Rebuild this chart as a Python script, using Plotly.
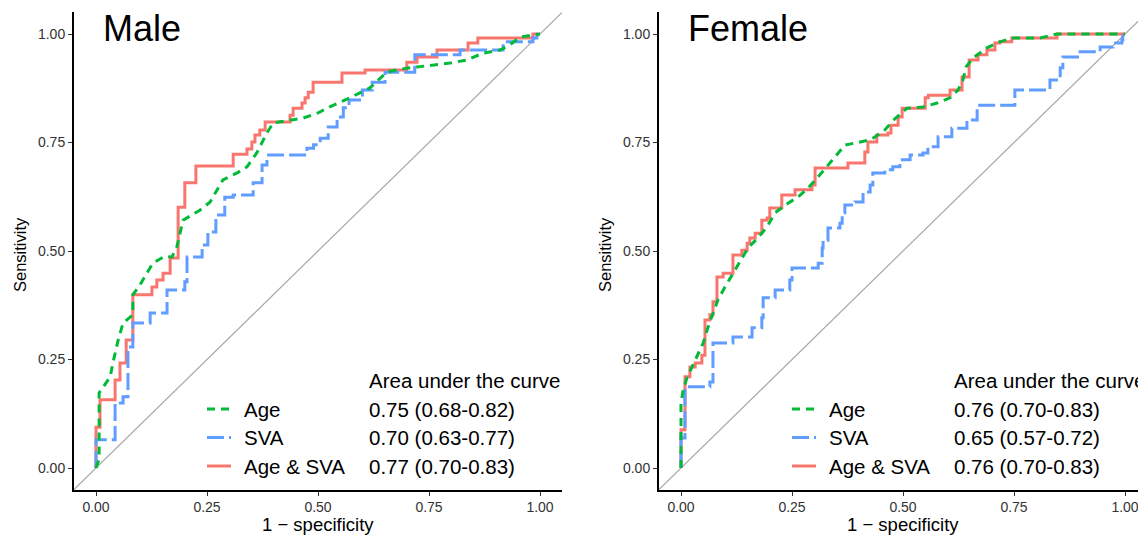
import plotly.graph_objects as go

# The page body adds an 8px margin, so the figure is drawn 8px smaller and
# reference pixel positions are shifted by that offset.
OFF = 8
W, H = 1146 - OFF, 535 - OFF

# ---------------- data ----------------
# Male panel
male_age_x = [0, 0.007, 0.007, 0.016, 0.032, 0.038, 0.05, 0.061, 0.083, 0.083, 0.099, 0.128, 0.155, 0.171,
              0.182, 0.196, 0.234, 0.257, 0.286, 0.318, 0.34, 0.362, 0.385, 0.399, 0.43, 0.466, 0.5, 0.52,
              0.572, 0.617, 0.655, 0.685, 0.723, 0.757, 0.797, 0.835, 0.872, 0.91, 0.932, 0.955, 0.984, 1.0]
male_age_y = [0, 0.02, 0.173, 0.187, 0.21, 0.242, 0.295, 0.334, 0.353, 0.399, 0.422, 0.472, 0.488, 0.486,
              0.509, 0.571, 0.594, 0.613, 0.664, 0.68, 0.694, 0.726, 0.772, 0.795, 0.80, 0.806, 0.818, 0.829,
              0.853, 0.876, 0.912, 0.919, 0.924, 0.928, 0.933, 0.94, 0.956, 0.963, 0.975, 0.993, 0.998, 1.0]

male_sva_x = [0, 0, 0.043, 0.061, 0.072, 0.083, 0.122, 0.16, 0.2, 0.205, 0.239, 0.252, 0.27, 0.29, 0.309,
              0.354, 0.374, 0.385, 0.475, 0.49, 0.505, 0.523, 0.543, 0.557, 0.57, 0.6, 0.622, 0.651, 0.718,
              0.82, 0.917, 0.984, 0.993, 1.0]
male_sva_y = [0, 0.065, 0.15, 0.164, 0.279, 0.334, 0.357, 0.41, 0.429, 0.486, 0.514, 0.544, 0.583, 0.624, 0.629,
              0.657, 0.698, 0.721, 0.737, 0.745, 0.76, 0.786, 0.809, 0.83, 0.848, 0.871, 0.889, 0.912, 0.952,
              0.963, 0.982, 0.991, 1.0, 1.0]

male_both_x = [0, 0, 0.009, 0.043, 0.054, 0.068, 0.083, 0.126, 0.137, 0.151, 0.167, 0.185, 0.2, 0.225, 0.309,
               0.34, 0.351, 0.358, 0.369, 0.381, 0.437, 0.444, 0.464, 0.471, 0.478, 0.489, 0.554, 0.606, 0.70,
               0.723, 0.768, 0.838, 0.86, 0.984, 1.0]
male_both_y = [0, 0.094, 0.157, 0.203, 0.242, 0.295, 0.399, 0.417, 0.433, 0.449, 0.484, 0.601, 0.657, 0.696, 0.723,
               0.735, 0.751, 0.767, 0.779, 0.797, 0.813, 0.829, 0.841, 0.853, 0.866, 0.889, 0.91, 0.917, 0.935,
               0.947, 0.963, 0.979, 0.991, 1.0, 1.0]

# Female panel
female_age_x = [0, 0, 0.005, 0.014, 0.025, 0.038, 0.05, 0.061, 0.072, 0.083, 0.099, 0.117, 0.133, 0.151, 0.173,
                0.194, 0.212, 0.241, 0.263, 0.286, 0.309, 0.329, 0.347, 0.369, 0.399, 0.426, 0.437, 0.459, 0.477,
                0.509, 0.545, 0.577, 0.606, 0.624, 0.635, 0.642, 0.658, 0.689, 0.718, 0.748, 0.809, 0.847, 1.0]
female_age_y = [0, 0.15, 0.18, 0.21, 0.233, 0.26, 0.288, 0.325, 0.357, 0.387, 0.417, 0.449, 0.475, 0.507, 0.53,
                0.556, 0.588, 0.61, 0.624, 0.645, 0.671, 0.694, 0.717, 0.744, 0.751, 0.756, 0.763, 0.779, 0.80,
                0.829, 0.832, 0.841, 0.853, 0.871, 0.894, 0.924, 0.945, 0.968, 0.982, 0.991, 0.991, 1.0, 1.0]

female_sva_x = [0, 0, 0.009, 0.065, 0.072, 0.117, 0.16, 0.182, 0.185, 0.212, 0.245, 0.25, 0.309, 0.318, 0.32,
                0.331, 0.358, 0.363, 0.369, 0.392, 0.41, 0.426, 0.432, 0.459, 0.477, 0.493, 0.516, 0.545, 0.556,
                0.579, 0.61, 0.644, 0.667, 0.752, 0.831, 0.854, 0.86, 0.899, 0.944, 0.973, 0.993, 0.995, 1.0]
female_sva_y = [0, 0.069, 0.187, 0.198, 0.288, 0.302, 0.323, 0.346, 0.392, 0.41, 0.433, 0.461, 0.472, 0.507, 0.525,
                0.553, 0.564, 0.588, 0.606, 0.613, 0.636, 0.652, 0.68, 0.687, 0.694, 0.71, 0.721, 0.726, 0.74,
                0.763, 0.783, 0.802, 0.836, 0.871, 0.894, 0.922, 0.947, 0.959, 0.970, 0.979, 0.986, 1.0, 1.0]

female_both_x = [0, 0, 0.009, 0.02, 0.032, 0.047, 0.054, 0.065, 0.072, 0.081, 0.095, 0.117, 0.137, 0.149, 0.155,
                 0.167, 0.182, 0.194, 0.2, 0.227, 0.257, 0.295, 0.302, 0.376, 0.414, 0.421, 0.441, 0.466, 0.473,
                 0.489, 0.498, 0.55, 0.557, 0.606, 0.633, 0.649, 0.669, 0.689, 0.707, 0.718, 0.745, 0.847, 1.0]
female_both_y = [0, 0.088, 0.21, 0.233, 0.242, 0.26, 0.341, 0.353, 0.383, 0.44, 0.449, 0.491, 0.502, 0.518, 0.53,
                 0.541, 0.571, 0.576, 0.599, 0.629, 0.641, 0.652, 0.691, 0.703, 0.728, 0.751, 0.767, 0.772, 0.79,
                 0.809, 0.829, 0.853, 0.859, 0.871, 0.901, 0.94, 0.952, 0.963, 0.979, 0.982, 0.991, 1.0, 1.0]

panels = ["Male", "Female"]
series = ["Age", "SVA", "Age & SVA"]
auc_male = ["0.75 (0.68-0.82)", "0.70 (0.63-0.77)", "0.77 (0.70-0.83)"]
auc_female = ["0.76 (0.70-0.83)", "0.65 (0.57-0.72)", "0.76 (0.70-0.83)"]
tick_vals = [0, 0.25, 0.5, 0.75, 1.0]
tick_text = ["0.00", "0.25", "0.50", "0.75", "1.00"]

# ---------------- style ----------------
FONT = "Liberation Sans, Arial, sans-serif"
colors = {"Age": "#00BA38", "SVA": "#619CFF", "Age & SVA": "#F8766D"}
dashes = {"Age": "8px,6px", "SVA": "17px,5px", "Age & SVA": "solid"}
shapes_line = {"Age": "linear", "SVA": "hv", "Age & SVA": "hv"}

data = {
    "Male": {"Age": (male_age_x, male_age_y), "SVA": (male_sva_x, male_sva_y),
             "Age & SVA": (male_both_x, male_both_y)},
    "Female": {"Age": (female_age_x, female_age_y), "SVA": (female_sva_x, female_sva_y),
               "Age & SVA": (female_both_x, female_both_y)},
}

PXU = 444.0  # pixels per unit on x
RNG = [-0.05, 1.05]


def fx(p):
    return (p - OFF) / W


def fy(p):
    return 1 - (p - OFF) / H


fig = go.Figure()
for i, p in enumerate(panels):
    xa = "x" if i == 0 else "x2"
    ya = "y" if i == 0 else "y2"
    fig.add_trace(go.Scatter(x=RNG, y=RNG, mode="lines", xaxis=xa, yaxis=ya,
                             line=dict(color="#A8A8A8", width=1.2), showlegend=False, hoverinfo="skip"))
    for s in ["Age & SVA", "SVA", "Age"]:
        xs, ys = data[p][s]
        fig.add_trace(go.Scatter(x=xs, y=ys, mode="lines", xaxis=xa, yaxis=ya, name=s,
                                 line=dict(color=colors[s], width=3, dash=dashes[s], shape=shapes_line[s]),
                                 showlegend=False))

axis_common = dict(showgrid=False, zeroline=False, showline=True, linecolor="black", linewidth=1.6,
                   ticks="outside", ticklen=4, tickcolor="#333333", tickwidth=1,
                   tickvals=tick_vals, ticktext=tick_text,
                   tickfont=dict(family=FONT, size=14, color="#333333"), automargin=False, fixedrange=True)

# reference: x 0 -> 96 px, 1 -> 540 px (male); 0 -> 681, 1 -> 1125 (female); y 1 -> 34 px, 0 -> 468 px
m_left = 96 - 0.05 * PXU
m_right = 540 + 0.05 * PXU
f_left = 681 - 0.05 * PXU
f_right_edge = OFF + W
f_hi = (f_right_edge - 681) / PXU
y_top = 34 - 0.05 * 434
y_bot = 468 + 0.05 * 434
ydom = [fy(y_bot), fy(y_top)]

fig.update_layout(
    width=W, height=H, margin=dict(l=0, r=0, t=0, b=0, pad=0),
    paper_bgcolor="white", plot_bgcolor="white",
    xaxis=dict(domain=[fx(m_left), fx(m_right)], anchor="y", range=RNG, **axis_common),
    yaxis=dict(domain=ydom, anchor="x", range=RNG, **axis_common),
    xaxis2=dict(domain=[fx(f_left), 1.0], anchor="y2", range=[-0.05, f_hi], **axis_common),
    yaxis2=dict(domain=ydom, anchor="x2", range=RNG, **axis_common),
    showlegend=False,
)

ann = []
shp = []
for i, p in enumerate(panels):
    off = 0 if i == 0 else 585
    auc = auc_male if i == 0 else auc_female
    ann.append(dict(x=fx(101 + off), y=fy(28), xref="paper", yref="paper", text=p, showarrow=False,
                    xanchor="left", yanchor="middle", font=dict(family=FONT, size=36, color="black")))
    ann.append(dict(x=fx(318 + off), y=fy(524), xref="paper", yref="paper", text="1 \u2212 specificity",
                    showarrow=False, xanchor="center", yanchor="middle",
                    font=dict(family=FONT, size=18.5, color="black")))
    ann.append(dict(x=fx(20 + off), y=fy(255), xref="paper", yref="paper", text="Sensitivity", showarrow=False,
                    textangle=-90, xanchor="center", yanchor="middle",
                    font=dict(family=FONT, size=16.5, color="black")))
    ann.append(dict(x=fx(367 + off), y=fy(380), xref="paper", yref="paper", text="Area under the curve",
                    showarrow=False, xanchor="left", yanchor="middle",
                    font=dict(family=FONT, size=20.5, color="black")))
    for k, s in enumerate(series):
        yp = 409 + 28.5 * k
        shp.append(dict(type="line", xref="paper", yref="paper", x0=fx(207 + off), x1=fx(231 + off),
                        y0=fy(yp), y1=fy(yp), line=dict(color=colors[s], width=3, dash=dashes[s])))
        ann.append(dict(x=fx(242 + off), y=fy(yp), xref="paper", yref="paper", text=s, showarrow=False,
                        xanchor="left", yanchor="middle", font=dict(family=FONT, size=20.5, color="black")))
        ann.append(dict(x=fx(367 + off), y=fy(yp), xref="paper", yref="paper", text=auc[k], showarrow=False,
                        xanchor="left", yanchor="middle", font=dict(family=FONT, size=20.5, color="black")))

fig.update_layout(annotations=ann, shapes=shp)
fig.write_html("out.html")
